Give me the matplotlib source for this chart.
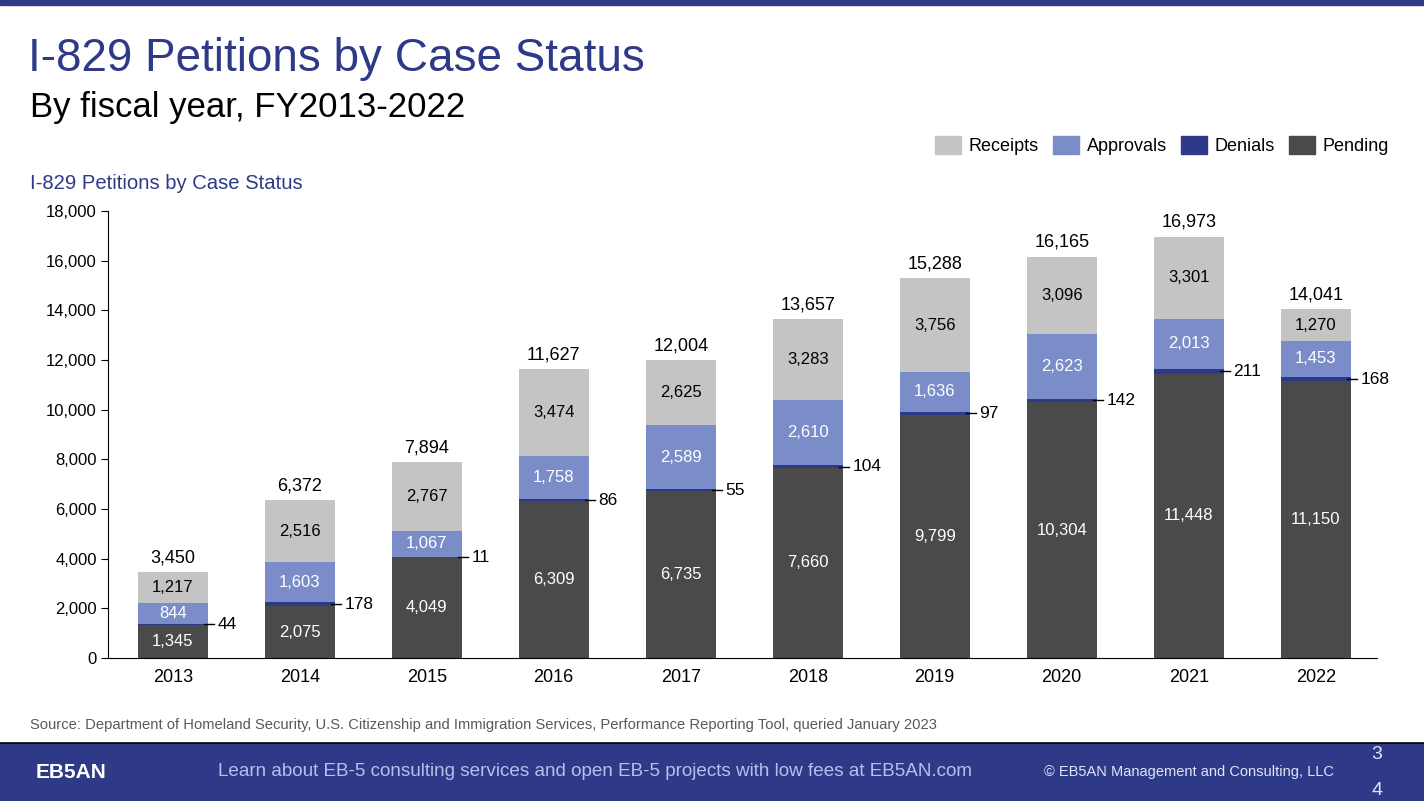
import matplotlib

matplotlib.use("Agg")
import matplotlib.pyplot as plt
from matplotlib.patches import Rectangle, Patch
import numpy as np

years = ["2013", "2014", "2015", "2016", "2017", "2018", "2019", "2020", "2021", "2022"]
pending = [1345, 2075, 4049, 6309, 6735, 7660, 9799, 10304, 11448, 11150]
denials = [44, 178, 11, 86, 55, 104, 97, 142, 211, 168]
approvals = [844, 1603, 1067, 1758, 2589, 2610, 1636, 2623, 2013, 1453]
receipts = [1217, 2516, 2767, 3474, 2625, 3283, 3756, 3096, 3301, 1270]

NAVY = "#2e3a87"
C_PEND = "#4a4a4a"
C_DEN = "#2e3a87"
C_APP = "#7a8dc8"
C_REC = "#c4c4c4"

plt.rcParams["font.family"] = ["Liberation Sans", "DejaVu Sans"]


def fmt(v):
    return f"{v:,}"


def main():
    fig = plt.figure(figsize=(14.24, 8.01), dpi=100)
    ax = fig.add_axes([0.0758, 0.1785, 0.891, 0.558])

    x = np.arange(len(years))
    w = 0.55
    pend = np.array(pending)
    den = np.array(denials)
    app = np.array(approvals)
    rec = np.array(receipts)

    ax.bar(x, pend, w, color=C_PEND)
    ax.bar(x, den, w, bottom=pend, color=C_DEN)
    ax.bar(x, app, w, bottom=pend + den, color=C_APP)
    ax.bar(x, rec, w, bottom=pend + den + app, color=C_REC)

    total = pend + den + app + rec
    for i in range(len(years)):
        ax.text(x[i], pend[i] / 2, fmt(pend[i]), ha="center", va="center",
                color="white", fontsize=12)
        yb = pend[i] + den[i] + app[i] / 2
        ax.text(x[i], yb, fmt(app[i]), ha="center", va="center",
                color="white", fontsize=12)
        yr = pend[i] + den[i] + app[i] + rec[i] / 2
        ax.text(x[i], yr, fmt(rec[i]), ha="center", va="center",
                color="black", fontsize=12)
        ax.text(x[i], total[i] + 230, fmt(total[i]), ha="center", va="bottom",
                color="black", fontsize=13)
        # denials label with short leader line
        yd = pend[i] + den[i] / 2
        x0 = x[i] + w / 2
        ax.plot([x0 - 0.03, x0 + 0.05], [yd, yd], color="black", lw=1, zorder=4)
        ax.text(x0 + 0.075, yd, fmt(den[i]), ha="left", va="center",
                color="black", fontsize=12.5)

    ax.set_xlim(-0.51, 9.48)
    ax.set_ylim(0, 18000)
    ax.set_yticks(range(0, 18001, 2000))
    ax.set_yticklabels([fmt(v) for v in range(0, 18001, 2000)], fontsize=12)
    ax.set_xticks(x)
    ax.set_xticklabels(years, fontsize=13)
    ax.tick_params(axis="x", length=0, pad=8)
    ax.tick_params(axis="y", length=5, direction="out", pad=3)
    ax.spines["top"].set_visible(False)
    ax.spines["right"].set_visible(False)

    handles = [Patch(color=C_REC), Patch(color=C_APP), Patch(color=C_DEN), Patch(color=C_PEND)]
    fig.legend(handles, ["Receipts", "Approvals", "Denials", "Pending"],
               loc="center right", bbox_to_anchor=(0.987, 0.818), ncol=4,
               frameon=False, fontsize=13, handlelength=1.4, handleheight=1.1,
               handletextpad=0.45, columnspacing=0.8)

    # header
    fig.patches.append(Rectangle((0, 0.994), 1, 0.006, transform=fig.transFigure,
                                 color=NAVY, zorder=5))
    fig.text(0.020, 0.926, "I-829 Petitions by Case Status", color=NAVY,
             fontsize=33, va="center", ha="left")
    fig.text(0.021, 0.866, "By fiscal year, FY2013-2022", color="black",
             fontsize=25, va="center", ha="left")
    fig.text(0.021, 0.771, "I-829 Petitions by Case Status", color=NAVY,
             fontsize=14.6, va="center", ha="left")

    fig.text(0.021, 0.095, "Source: Department of Homeland Security, U.S. Citizenship and "
             "Immigration Services, Performance Reporting Tool, queried January 2023",
             color="#595959", fontsize=10.6, va="center", ha="left")

    # footer band
    fig.patches.append(Rectangle((0, 0), 1, 0.073, transform=fig.transFigure,
                                 facecolor=NAVY, edgecolor="none", zorder=5))
    fig.lines.append(plt.Line2D([0, 1], [0.073, 0.073], transform=fig.transFigure,
                                color="black", lw=1.2, zorder=6))
    fig.text(0.025, 0.035, "EB5AN", color="white", fontsize=15, fontweight="bold",
             va="center", ha="left", zorder=7)
    fig.text(0.153, 0.037, "Learn about EB-5 consulting services and open EB-5 projects "
             "with low fees at EB5AN.com", color="#b3c1ea", fontsize=13.6,
             va="center", ha="left", zorder=7)
    fig.text(0.733, 0.036, "\u00a9 EB5AN Management and Consulting, LLC", color="#dfe4f5",
             fontsize=10.5, va="center", ha="left", zorder=7)
    fig.text(0.967, 0.058, "3", color="#dfe4f5", fontsize=14, va="center",
             ha="center", zorder=7)
    fig.text(0.967, 0.013, "4", color="#dfe4f5", fontsize=14, va="center",
             ha="center", zorder=7)

    fig.savefig("out.png", dpi=100)
    plt.close(fig)


if __name__ == "__main__":
    main()
